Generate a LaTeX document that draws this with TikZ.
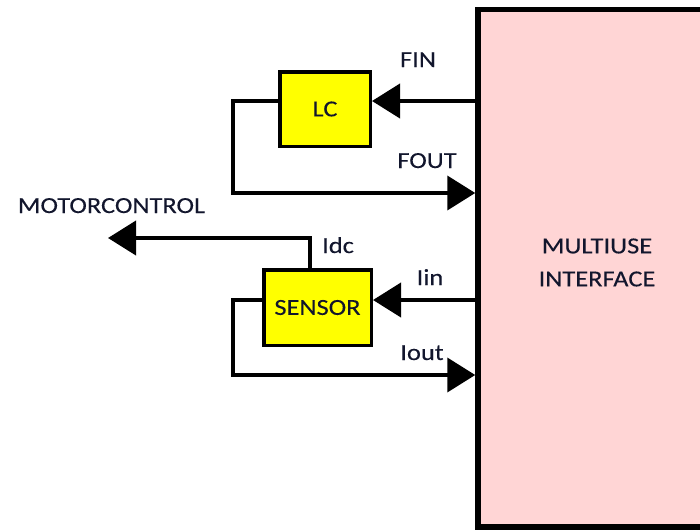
\documentclass[tikz,border=0pt]{standalone}
\usepackage{fontspec}
\setmainfont[FakeStretch=1.15,FakeBold=0.15]{Carlito}
\usetikzlibrary{arrows.meta}
\definecolor{boxyellow}{RGB}{255,255,0}
\definecolor{pinkfill}{RGB}{255,213,213}
\definecolor{txt}{RGB}{18,22,45}
\begin{document}
\begin{tikzpicture}[x=1pt,y=-1pt,
  every node/.style={font=\fontsize{23}{33}\selectfont, text=txt},
  smallbox/.style={draw=black, fill=boxyellow, line width=3.5pt, inner sep=0pt},
  bigbox/.style={draw=black, fill=pinkfill, line width=5.5pt, inner sep=0pt},
  wire/.style={line width=4pt, draw=black},
  arr/.style={wire, -{Triangle[length=28pt,width=34pt]}},
  lbl/.style={anchor=base, inner sep=0pt}]
\useasboundingbox (0,0) rectangle (700,530);
\clip (0,0) rectangle (700,530);
\node[bigbox, minimum width=242pt, minimum height=517.5pt] (mi) at (599,268.25) {};
\node[inner sep=0pt, align=center] (mitext) at (597,262.5) {MULTIUSE\\INTERFACE};
\node[smallbox, minimum width=90.5pt, minimum height=74.5pt] (lc) at (325,109) {LC};
\node[smallbox, minimum width=107.5pt, minimum height=75.5pt] (sensor) at (317.5,307.5) {SENSOR};
\node[lbl] (fin) at (418,67) {FIN};
\node[lbl] (fout) at (427,168) {FOUT};
\node[lbl] (iin) at (430,285) {Iin};
\node[lbl] (iout) at (422,360) {Iout};
\node[lbl] (idc) at (338,253) {Idc};
\node[lbl] (motor) at (111.5,213) {MOTORCONTROL};
\coordinate (yfin) at (0,101);
\coordinate (yfout) at (0,193);
\coordinate (yiin) at (0,300);
\coordinate (yiout) at (0,375);
\coordinate (xl) at (233,0);
\coordinate (xidc) at (310,0);
\coordinate (yidc) at (0,238);
\coordinate (mc) at (108,238);
\draw[arr] (mi.west |- yfin) -- (lc.east |- yfin);
\draw[arr] (lc.west |- yfin) -- (xl |- yfin) -- (xl |- yfout) -- (mi.west |- yfout);
\draw[arr] (mi.west |- yiin) -- (sensor.east |- yiin);
\draw[arr] (sensor.west |- yiin) -- (xl |- yiin) -- (xl |- yiout) -- (mi.west |- yiout);
\draw[arr] (sensor.north -| xidc) -- (xidc |- yidc) -- (mc);
\end{tikzpicture}
\end{document}
